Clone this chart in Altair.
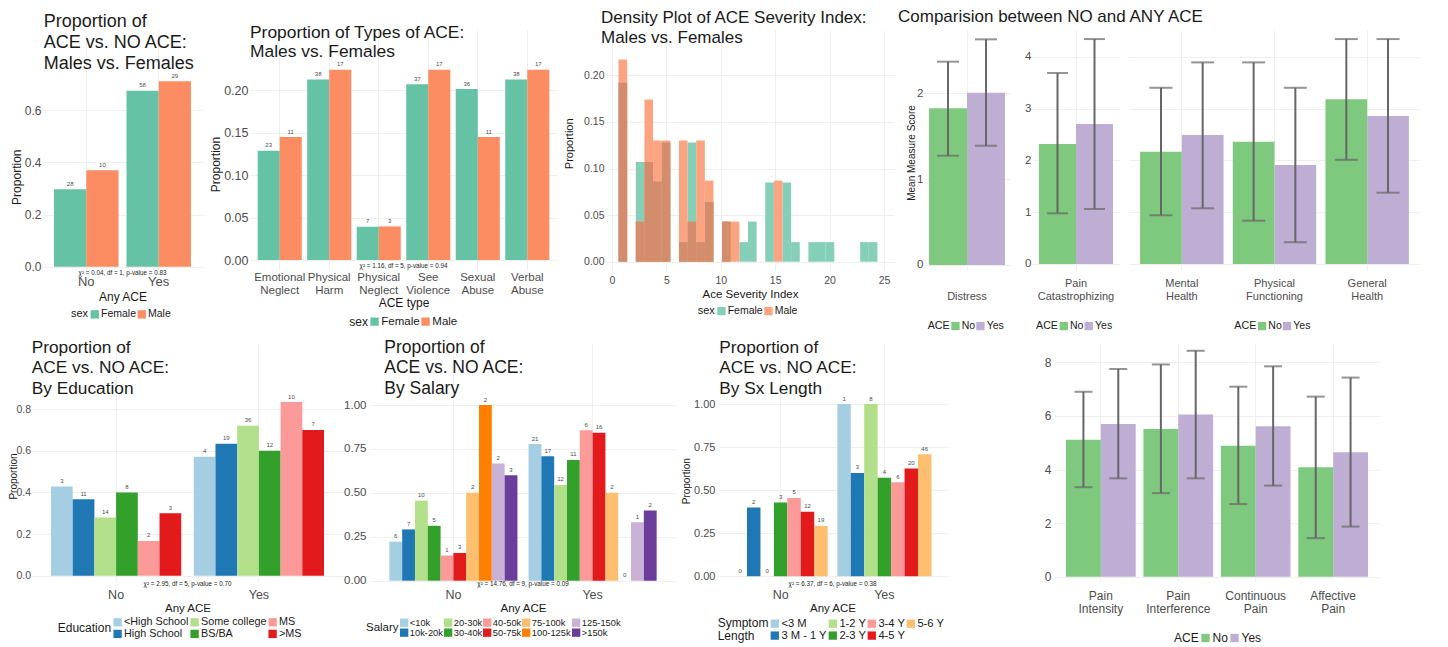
import altair as alt
import pandas as pd

FONT = "Liberation Sans"
LAB = "#4D4D4D"
TXT = "#1A1A1A"
ERR = "#666666"

# ---------------- categories / colours ----------------
ace_levels = ["No", "Yes"]
sex_levels = ["Female", "Male"]
sex_colors = ["#66C2A5", "#FC8D62"]
sex_colors_light = ["#85CEB7", "#FCA481"]
overlap_color = "#D38D6C"
ace_colors = ["#7FC97F", "#BEAED4"]
paired = ["#A6CEE3", "#1F78B4", "#B2DF8A", "#33A02C", "#FB9A99",
          "#E31A1C", "#FDBF6F", "#FF7F00", "#CAB2D6", "#6A3D9A"]

# ---------------- panel 1: ACE vs NO ACE by sex ----------------
sex_female = [0.297, 0.674]
sex_male = [0.370, 0.711]
sex_female_n = [28, 58]
sex_male_n = [10, 29]
sex_chi = "χ² = 0.04, df = 1, p-value = 0.83"

# ---------------- panel 2: types of ACE by sex ----------------
ace_types = ["Emotional Neglect", "Physical Harm", "Physical Neglect",
             "See Violence", "Sexual Abuse", "Verbal Abuse"]
type_female = [0.1285, 0.2123, 0.0391, 0.2067, 0.2011, 0.2123]
type_male = [0.1447, 0.2237, 0.0395, 0.2237, 0.1447, 0.2237]
type_female_n = [23, 38, 7, 37, 36, 38]
type_male_n = [11, 17, 3, 17, 11, 17]
type_chi = "χ² = 1.16, df = 5, p-value = 0.94"

# ---------------- panel 3: severity histogram ----------------
sev_centers = [1.000, 1.793, 2.586, 3.379, 4.172, 4.966, 5.759, 6.552, 7.345, 8.138,
               8.931, 9.724, 10.517, 11.310, 12.103, 12.897, 13.690, 14.483, 15.276, 16.069,
               16.862, 17.655, 18.448, 19.241, 20.034, 20.828, 21.621, 22.414, 23.207, 24.000]
sev_bin_width = 0.793
sev_female = [0.192, 0, 0.107, 0.107, 0.086, 0.128, 0, 0.021, 0.128, 0.021,
              0.064, 0, 0.043, 0, 0.021, 0.043, 0, 0.085, 0, 0.085,
              0.021, 0, 0.021, 0.021, 0.021, 0, 0, 0, 0.021, 0.021]
sev_male = [0.217, 0, 0.043, 0.174, 0.130, 0.130, 0, 0.130, 0.043, 0.130,
            0.087, 0, 0.043, 0.043, 0, 0, 0, 0, 0.087, 0,
            0, 0, 0, 0, 0, 0, 0, 0, 0, 0]

# ---------------- panel 4: outcome measures ----------------
top_measures = ["Distress", "Pain Catastrophizing", "Mental Health",
                "Physical Functioning", "General Health"]
top_no_mean = [1.826, 2.315, 2.167, 2.360, 3.180]
top_no_lo = [1.274, 0.978, 0.940, 0.836, 2.010]
top_no_hi = [2.370, 3.685, 3.400, 3.890, 4.340]
top_yes_mean = [2.008, 2.700, 2.490, 1.910, 2.855]
top_yes_lo = [1.390, 1.061, 1.075, 0.420, 1.376]
top_yes_hi = [2.630, 4.340, 3.890, 3.400, 4.340]

pain_measures = ["Pain Intensity", "Pain Interference", "Continuous Pain", "Affective Pain"]
pain_no_mean = [5.11, 5.51, 4.89, 4.08]
pain_no_lo = [3.34, 3.12, 2.71, 1.44]
pain_no_hi = [6.90, 7.92, 7.09, 6.72]
pain_yes_mean = [5.70, 6.05, 5.61, 4.64]
pain_yes_lo = [3.67, 3.67, 3.40, 1.87]
pain_yes_hi = [7.75, 8.43, 7.85, 7.43]

# ---------------- bottom: education / salary / symptom length ----------------
edu_levels = ["<High School", "High School", "Some college", "BS/BA", "MS", ">MS"]
edu_no = [0.4286, 0.3667, 0.280, 0.400, 0.1667, 0.300]
edu_yes = [0.5714, 0.6333, 0.720, 0.600, 0.8333, 0.700]
edu_no_n = [3, 11, 14, 8, 2, 3]
edu_yes_n = [4, 19, 36, 12, 10, 7]
edu_chi = "χ² = 2.95, df = 5, p-value = 0.70"

sal_levels = ["<10k", "10k-20k", "20-30k", "30-40k", "40-50k", "50-75k",
              "75-100k", "100-125k", "125-150k", ">150k"]
sal_no = [0.222, 0.292, 0.455, 0.3125, 0.143, 0.158, 0.500, 1.000, 0.667, 0.600]
sal_yes = [0.778, 0.708, 0.545, 0.6875, 0.857, 0.842, 0.500, 0.000, 0.333, 0.400]
sal_no_n = [6, 7, 10, 5, 1, 3, 2, 2, 2, 3]
sal_yes_n = [21, 17, 12, 11, 6, 16, 2, 0, 1, 2]
sal_chi = "χ² = 14.76, df = 9, p-value = 0.09"

sx_levels = ["<3 M", "3 M - 1 Y", "1-2 Y", "2-3 Y", "3-4 Y", "4-5 Y", "5-6 Y"]
sx_no = [0.000, 0.400, 0.000, 0.4286, 0.4545, 0.375, 0.292]
sx_yes = [1.000, 0.600, 1.000, 0.5714, 0.5455, 0.625, 0.708]
sx_no_n = [0, 2, 0, 3, 5, 12, 19]
sx_yes_n = [1, 3, 8, 4, 6, 20, 46]
sx_chi = "χ² = 6.37, df = 6, p-value = 0.38"


# ================= helpers =================
def dodge_df(cats, groups, vals_by_group, n_by_group):
    rows = []
    for g, vals, ns in zip(groups, vals_by_group, n_by_group):
        for c, v, n in zip(cats, vals, ns):
            rows.append({"cat": c, "grp": g, "v": v, "n": str(n)})
    return pd.DataFrame(rows)


def spacer(w, h=1):
    return alt.Chart(pd.DataFrame({"s": [0]})).mark_point(size=0, opacity=0).encode(
        x=alt.value(0), y=alt.value(0)).properties(width=w, height=h)


def ttl(text, size, lh, offset, dx):
    return alt.TitleParams(text=text, anchor="start", frame="group", offset=offset, dx=dx,
                           fontSize=size, lineHeight=lh, font=FONT, fontWeight="normal",
                           color=TXT)


def y_axis(values, fmt, font, pad, title=None, tfont=12, tx=0, ty=0, labels=True):
    kw = dict(values=values, format=fmt, labelFontSize=font, labelPadding=pad,
              labelColor=LAB, grid=True, labels=labels, labelFlush=False)
    if title:
        kw.update(title=title, titleFontSize=tfont, titleX=tx, titleY=ty, titleAngle=270,
                  titleAlign="center", titleBaseline="alphabetic", titleColor=TXT)
    else:
        kw["title"] = None
    return alt.Axis(**kw)


def band_axis(font, pad, title=None, tfont=12, ty=0, baseline="top", lh=None, expr=None):
    kw = dict(labelFontSize=font, labelPadding=pad, labelAngle=0, labelBaseline=baseline,
              labelColor=LAB, labelOverlap=False, grid=True, bandPosition=0.5, labelLimit=300)
    if lh:
        kw["labelLineHeight"] = lh
    if expr:
        kw["labelExpr"] = expr
    if title:
        kw.update(title=title, titleFontSize=tfont, titleY=ty, titleBaseline="alphabetic",
                  titleColor=TXT)
    else:
        kw["title"] = None
    return alt.Axis(**kw)


SPLIT = "split(datum.label, ' ')"
SPLIT_BOTTOM = "indexof(datum.label, ' ') < 0 ? ['', datum.label] : split(datum.label, ' ')"


def leg(title, lx, ly, lab, tsize, cols, values=None, tlh=None):
    kw = dict(orient="none", legendX=lx, legendY=ly, direction="horizontal", columns=cols,
              title=title, titleOrient="left", titleAnchor="middle", titleBaseline="middle",
              titleFontSize=tsize, titleFontWeight="normal", titleColor=TXT, titlePadding=0.5,
              labelFontSize=lab, labelColor=TXT, labelOffset=1, columnPadding=0,
              rowPadding=0, symbolType="square", symbolSize=69, symbolStrokeWidth=0,
              symbolOpacity=1, padding=0)
    if values is not None:
        kw["values"] = values
    if tlh:
        kw["titleLineHeight"] = tlh
    return alt.Legend(**kw)


def dodge_panel(df, cats, groups, colors, w, h, pi, po, ydom, yaxis, xaxis, legend,
                title=None, chi=None, chi_y=0):
    x = alt.X("cat:N", scale=alt.Scale(domain=cats, paddingInner=pi, paddingOuter=po), axis=xaxis)
    xo = alt.XOffset("grp:N", scale=alt.Scale(domain=groups, paddingInner=0, paddingOuter=0))
    y = alt.Y("v:Q", scale=alt.Scale(domain=ydom, nice=False), axis=yaxis)
    base = alt.Chart(df)
    bars = base.mark_bar().encode(
        x=x, xOffset=xo, y=y,
        color=alt.Color("grp:N", scale=alt.Scale(domain=groups, range=colors), legend=legend))
    nums = base.mark_text(fontSize=6, color=LAB, dy=-3.5, baseline="alphabetic").encode(
        x=x, xOffset=xo, y=y, text="n:N")
    layers = [bars, nums]
    if chi:
        layers.append(alt.Chart(pd.DataFrame({"t": [chi]})).mark_text(
            fontSize=6.3, color=TXT, baseline="middle").encode(
            text="t:N", x=alt.value(w / 2), y=alt.value(chi_y)))
    props = dict(width=w, height=h)
    if title is not None:
        props["title"] = title
    return alt.layer(*layers).properties(**props)


def err_panel(measures, nm, nlo, nhi, ym, ylo, yhi, w, h, pi, po, ydom, yaxis, xaxis,
              legend, cap, title=None):
    k = len(measures)
    df = pd.DataFrame({"measure": measures * 2, "ace": ["No"] * k + ["Yes"] * k,
                       "v": nm + ym, "lo": nlo + ylo, "hi": nhi + yhi})
    x = alt.X("measure:N", scale=alt.Scale(domain=measures, paddingInner=pi, paddingOuter=po),
              axis=xaxis)
    xo = alt.XOffset("ace:N", scale=alt.Scale(domain=ace_levels, paddingInner=0, paddingOuter=0))
    ysc = alt.Scale(domain=ydom, nice=False)
    base = alt.Chart(df)
    bars = base.mark_bar().encode(
        x=x, xOffset=xo, y=alt.Y("v:Q", scale=ysc, axis=yaxis),
        color=alt.Color("ace:N", scale=alt.Scale(domain=ace_levels, range=ace_colors),
                        legend=legend))
    rule = base.mark_rule(color=ERR, strokeWidth=2).encode(
        x=x, xOffset=xo, y=alt.Y("lo:Q", scale=ysc, axis=yaxis), y2="hi:Q")
    tlo = base.mark_tick(color=ERR, thickness=2, size=cap, orient="horizontal").encode(
        x=x, xOffset=xo, y=alt.Y("lo:Q", scale=ysc, axis=yaxis))
    thi = base.mark_tick(color=ERR, thickness=2, size=cap, orient="horizontal").encode(
        x=x, xOffset=xo, y=alt.Y("hi:Q", scale=ysc, axis=yaxis))
    props = dict(width=w, height=h)
    if title is not None:
        props["title"] = title
    return alt.layer(bars, rule, tlo, thi).properties(**props)


H1 = 240
H2 = 237

# ---------------- panel 1 ----------------
p1 = dodge_panel(
    dodge_df(ace_levels, sex_levels, [sex_female, sex_male], [sex_female_n, sex_male_n]),
    ace_levels, sex_levels, sex_colors, 161, H1, 0.11, 0.166, [-0.0126, 0.907],
    y_axis([0, 0.2, 0.4, 0.6], ".1f", 12, 1, "Proportion", 12, -22, 146.7),
    band_axis(13, 5, "Any ACE", 12, 30),
    leg("sex", 29, 279, 10.5, 11, 2),
    ttl(["Proportion of", "ACE vs. NO ACE:", "Males vs. Females"], 18, 21, -43, 1.7),
    sex_chi, 242.7)

# ---------------- panel 2 ----------------
p2 = dodge_panel(
    dodge_df(ace_types, sex_levels, [type_female, type_male], [type_female_n, type_male_n]),
    ace_types, sex_levels, sex_colors, 307, H1, 0.11, 0.155, [-0.01176, 0.2706],
    y_axis([0, 0.05, 0.10, 0.15, 0.20], ".2f", 12.5, 2, "Proportion", 12, -31, 134),
    band_axis(11.5, 1, "ACE type", 12, 36, lh=13.3, expr=SPLIT),
    leg("sex", 99.3, 285.5, 11.5, 12, 2),
    ttl(["Proportion of Types of ACE:", "Males vs. Females"], 17.4, 18.7, -30, 0),
    type_chi, 235.7)

# ---------------- panel 3 ----------------
sev_rows = []
for sex, vals in zip(sex_levels, [sev_female, sev_male]):
    for c, v in zip(sev_centers, vals):
        if v > 0:
            sev_rows.append({"sex": sex, "start": c - sev_bin_width / 2,
                             "end": c + sev_bin_width / 2, "v": v, "zero": 0.0})
sev_df = pd.DataFrame(sev_rows)
ov_rows = []
for c, f, m in zip(sev_centers, sev_female, sev_male):
    if min(f, m) > 0:
        ov_rows.append({"start": c - sev_bin_width / 2, "end": c + sev_bin_width / 2,
                        "v": min(f, m), "zero": 0.0})
ov_df = pd.DataFrame(ov_rows)

sev_x = alt.X("start:Q", scale=alt.Scale(domain=[-0.55, 25.92], nice=False, zero=False),
              axis=alt.Axis(values=[0, 5, 10, 15, 20, 25], format="d", labelFontSize=10.5,
                            labelPadding=5.4, labelFlush=False, labelColor=LAB, grid=True,
                            title="Ace Severity Index", titleFontSize=11.5, titleY=27.4,
                            titleBaseline="alphabetic", titleColor=TXT))
sev_y = alt.Y("v:Q", scale=alt.Scale(domain=[-0.0089, 0.2486], nice=False),
              axis=y_axis([0, 0.05, 0.10, 0.15, 0.20], ".2f", 10.5, 2, "Proportion", 11, -34, 113.3))
sev_bars = alt.Chart(sev_df).mark_bar().encode(
    x=sev_x, x2="end:Q", y=sev_y, y2="zero:Q",
    color=alt.Color("sex:N", scale=alt.Scale(domain=sex_levels, range=sex_colors_light),
                    legend=leg("sex", 91.7, 275.7, 10.5, 11, 2)))
sev_ov = alt.Chart(ov_df).mark_bar(color=overlap_color).encode(
    x=sev_x, x2="end:Q", y=sev_y, y2="zero:Q")
p3 = alt.layer(sev_bars, sev_ov).properties(
    width=288, height=H1,
    title=ttl(["Density Plot of ACE Severity Index:", "Males vs. Females"], 17, 20, -17.3, -5))

# ---------------- panel 4 (three facets) ----------------
top_dom = [-0.1158, 4.515]
pD = err_panel(top_measures[:1], top_no_mean[:1], top_no_lo[:1], top_no_hi[:1],
               top_yes_mean[:1], top_yes_lo[:1], top_yes_hi[:1],
               86, H1, 0.1, 0.06, [-0.0583, 2.739],
               y_axis([0, 1, 2], "d", 11.5, 1, "Mean Measure Score", 10, -10, 122.5),
               band_axis(11, 18.6, baseline="bottom", lh=13.3, expr=SPLIT_BOTTOM),
               leg("ACE", 3.7, 290.7, 10.5, 10.7, 2), 22,
               ttl("Comparision between NO and ANY ACE", 17, 20, 3.8, -26))
pPC = err_panel(top_measures[1:2], top_no_mean[1:2], top_no_lo[1:2], top_no_hi[1:2],
                top_yes_mean[1:2], top_yes_lo[1:2], top_yes_hi[1:2],
                88, H1, 0.1, 0.085, top_dom,
                y_axis([0, 1, 2, 3, 4], "d", 11.5, 1),
                band_axis(11, 18.6, baseline="bottom", lh=13.3, expr=SPLIT_BOTTOM),
                leg("ACE", 4, 290.7, 10.5, 10.7, 2), 21)
pG3 = err_panel(top_measures[2:], top_no_mean[2:], top_no_lo[2:], top_no_hi[2:],
                top_yes_mean[2:], top_yes_lo[2:], top_yes_hi[2:],
                291, H1, 0.1, 0.12, top_dom,
                y_axis([0, 1, 2, 3, 4], "d", 11.5, 1, labels=False),
                band_axis(11, 18.6, baseline="bottom", lh=13.3, expr=SPLIT_BOTTOM),
                leg("ACE", 105.3, 290.7, 10.5, 10.7, 2), 23)

# ---------------- bottom panels ----------------
pEdu = dodge_panel(
    dodge_df(ace_levels, edu_levels, list(zip(edu_no, edu_yes)), list(zip(edu_no_n, edu_yes_n))),
    ace_levels, edu_levels, paired[:6], 313, H2, 0.088, 0.14, [-0.0254, 1.1123],
    y_axis([0, 0.2, 0.4, 0.6, 0.8], ".1f", 10.5, 0.5, "Proportion", 10, -14.5, 132),
    band_axis(12.5, 7, "Any ACE", 11.5, 30.6),
    leg("Education", 26.7, 272.5, 10.8, 12, 3,
        values=["<High School", "Some college", "MS", "High School", "BS/BA", ">MS"]),
    ttl(["Proportion of", "ACE vs. NO ACE:", "By Education"], 17.3, 20.5, -53, 0.7),
    edu_chi, 240)

pSal = dodge_panel(
    dodge_df(ace_levels, sal_levels, list(zip(sal_no, sal_yes)), list(zip(sal_no_n, sal_yes_n))),
    ace_levels, sal_levels, paired, 306, H2, 0.08, 0.139, [-0.0017, 1.3472],
    y_axis([0, 0.25, 0.5, 0.75, 1.0], ".2f", 11.5, 4),
    band_axis(12.5, 7, "Any ACE", 11.5, 30.6),
    leg("Salary", -4, 274, 9.3, 11.5, 5,
        values=["<10k", "20-30k", "40-50k", "75-100k", "125-150k",
                "10k-20k", "30-40k", "50-75k", "100-125k", ">150k"]),
    ttl(["Proportion of", "ACE vs. NO ACE:", "By Salary"], 17.5, 20.5, -53, 14.3),
    sal_chi, 240)

pSx = dodge_panel(
    dodge_df(ace_levels, sx_levels, list(zip(sx_no, sx_yes)), list(zip(sx_no_n, sx_yes_n))),
    ace_levels, sx_levels, paired[:7], 229, H2, 0.093, 0.15, [-0.0273, 1.3483],
    y_axis([0, 0.25, 0.5, 0.75, 1.0], ".2f", 11, 3, "Proportion", 10, -29, 136.7),
    band_axis(12.5, 7, "Any ACE", 11.5, 30.6),
    leg(["Symptom", "Length"], -0.3, 274, 11.2, 12, 4,
        values=["<3 M", "1-2 Y", "3-4 Y", "5-6 Y", "3 M - 1 Y", "2-3 Y", "4-5 Y"], tlh=12.5),
    ttl(["Proportion of", "ACE vs. NO ACE:", "By Sx Length"], 17.3, 20.5, -53, 1.3),
    sx_chi, 240)

pPain = err_panel(pain_measures, pain_no_mean, pain_no_lo, pain_no_hi,
                  pain_yes_mean, pain_yes_lo, pain_yes_hi,
                  326, H2, 0.1, 0.155, [-0.16, 8.683],
                  y_axis([0, 2, 4, 6, 8], "d", 12, 3),
                  band_axis(12, 9.5, lh=12.7, expr=SPLIT),
                  leg("ACE", 120, 288, 12, 12, 2), 18)

# ---------------- layout ----------------
RES = dict(color="independent", x="independent", y="independent", xOffset="independent")

top = alt.hconcat(spacer(33), p1, spacer(47), p2, spacer(49), p3, spacer(30), pD,
                  spacer(22), pPC, spacer(9), pG3, spacing=0, bounds="flush"
                  ).resolve_scale(**RES).resolve_legend(color="independent")
bottom = alt.hconcat(spacer(22), pEdu, spacer(26), pSal, spacer(42), pSx, spacer(107), pPain,
                     spacing=0, bounds="flush"
                     ).resolve_scale(**RES).resolve_legend(color="independent")

chart = alt.vconcat(top, bottom, spacing=6).resolve_scale(**RES).resolve_legend(
    color="independent").properties(padding=0, background="white")

chart = chart.configure(font=FONT).configure_view(stroke=None).configure_axis(
    domain=False, ticks=False, tickSize=0, gridColor="#EFEFEF", gridWidth=1,
    labelFont=FONT, titleFont=FONT, titleFontWeight="normal"
).configure_legend(labelFont=FONT, titleFont=FONT).configure_title(font=FONT).configure_text(font=FONT)

chart.save("out.html", embed_options={"renderer": "svg", "actions": False})
